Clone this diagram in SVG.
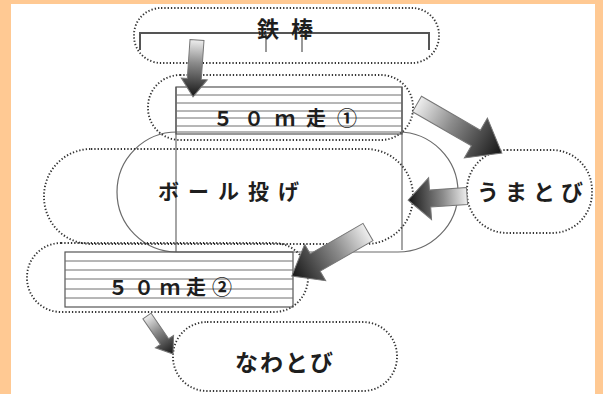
<svg xmlns="http://www.w3.org/2000/svg" width="603" height="394" viewBox="0 0 603 394">
<defs>
<linearGradient id="ag" x1="0" y1="0" x2="1" y2="0">
<stop offset="0" stop-color="#eeeeee"/>
<stop offset="0.4" stop-color="#8c8c8c"/>
<stop offset="1" stop-color="#151515"/>
</linearGradient>
<style>
.dot{fill:none;stroke:#333;stroke-width:1.9;stroke-dasharray:1.3 2}
.sol{fill:none;stroke:#6a6a6a;stroke-width:1.2}
.str{stroke:#6e6e6e;stroke-width:1}
.box{fill:none;stroke:#555;stroke-width:1.2}
.t{font-family:"Noto Sans CJK JP","Noto Sans",sans-serif;font-weight:700;fill:#1e1e1e}
.arr{fill:url(#ag);stroke:#777;stroke-width:1}
</style>
</defs>
<rect x="0" y="0" width="603" height="394" fill="#FFC993"/>
<rect x="11" y="4" width="584" height="390" fill="#ffffff"/>

<g id="bigpill">
<rect class="sol" x="117" y="132" width="341" height="120" rx="60" ry="60"/>
<line class="sol" x1="176" y1="87" x2="176" y2="252"/>
<line class="sol" x1="402" y1="87" x2="402" y2="250"/>
</g>

<g id="tetsubo">
<rect class="dot" x="134" y="8" width="305" height="55" rx="27" ry="27"/>
<polyline fill="none" stroke="#555" stroke-width="2" points="140,50 140,33 429,33 429,50"/>
<line class="box" x1="266" y1="33" x2="266" y2="52"/>
<line class="box" x1="302" y1="33" x2="302" y2="52"/>
<text class="t" x="257" y="37" font-size="22" letter-spacing="12">鉄棒</text>
</g>

<g id="run1">
<rect class="dot" x="148" y="75" width="265" height="65" rx="32" ry="32"/>
<rect class="box" x="176" y="87" width="226" height="47"/>
<g class="str">
<line x1="176" y1="95" x2="402" y2="95"/>
<line x1="176" y1="103" x2="402" y2="103"/>
<line x1="176" y1="111" x2="402" y2="111"/>
<line x1="176" y1="118" x2="402" y2="118"/>
<line x1="176" y1="126" x2="402" y2="126"/>
</g>
<text class="t" x="213" y="126" font-size="20" letter-spacing="11">５０ｍ走①</text>
</g>

<g id="ball">
<rect class="dot" x="44" y="149" width="369" height="95" rx="47" ry="47"/>
<text class="t" x="158" y="199" font-size="21" letter-spacing="9">ボール投げ</text>
</g>

<g id="umatobi">
<rect class="dot" x="467" y="150" width="125" height="83" rx="40" ry="40"/>
<text class="t" x="477" y="200" font-size="22" letter-spacing="6">うまとび</text>
</g>

<g id="run2">
<rect class="dot" x="27" y="243" width="281" height="69" rx="34" ry="34"/>
<rect class="box" x="65" y="252" width="228" height="55"/>
<g class="str">
<line x1="65" y1="261" x2="293" y2="261"/>
<line x1="65" y1="270" x2="293" y2="270"/>
<line x1="65" y1="279" x2="293" y2="279"/>
<line x1="65" y1="289" x2="293" y2="289"/>
<line x1="65" y1="298" x2="293" y2="298"/>
</g>
<text class="t" x="108" y="295" font-size="20" letter-spacing="6">５０ｍ走②</text>
</g>

<g id="nawatobi">
<rect class="dot" x="173" y="322" width="224" height="69" rx="34" ry="34"/>
<text class="t" x="235" y="371" font-size="23" letter-spacing="2">なわとび</text>
</g>

<g id="connectors">
<polygon class="arr" transform="translate(197,40) rotate(94)" points="0,-7 39,-7 39,-13 57,0 39,13 39,7 0,7"/>
<polygon class="arr" transform="translate(417,104) rotate(30)" points="0,-9 68,-9 68,-23 98,0 68,23 68,9 0,9"/>
<polygon class="arr" transform="translate(467,196) rotate(176)" points="0,-8.5 37,-8.5 37,-21 59,0 37,21 37,8.5 0,8.5"/>
<polygon class="arr" transform="translate(368,232) rotate(150)" points="0,-10 61,-10 61,-21 88,0 61,21 61,10 0,10"/>
<polygon class="arr" transform="translate(147,316) rotate(55.6)" points="0,-5 31,-5 31,-11 46,0 31,11 31,5 0,5"/>
</g>
</svg>
